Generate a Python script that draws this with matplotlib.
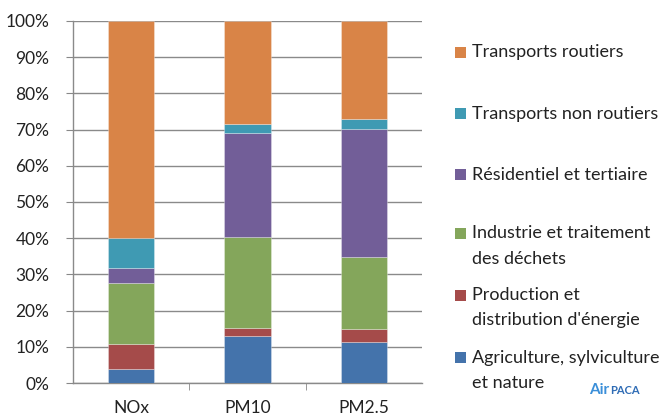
# -------------------------------------------------------------------------------------
# Library
import numpy as np
import matplotlib
matplotlib.use('Agg')
import matplotlib.pyplot as plt
from matplotlib.patches import Rectangle
from matplotlib.ticker import FuncFormatter
# -------------------------------------------------------------------------------------

# -------------------------------------------------------------------------------------
# Data (parts in %)
pollutants = ['NOx', 'PM10', 'PM2.5']
sectors = ['Agriculture, sylviculture\net nature',
           'Production et\ndistribution d\'énergie',
           'Industrie et traitement\ndes déchets',
           'Résidentiel et tertiaire',
           'Transports non routiers',
           'Transports routiers']
agriculture = [3.8, 13.0, 11.4]
production = [7.0, 2.3, 3.4]
industrie = [16.7, 25.1, 19.9]
residentiel = [4.4, 28.6, 35.5]
non_routiers = [8.2, 2.5, 2.6]
routiers = [59.9, 28.5, 27.2]
colors = ['#4473AB', '#A54B4A', '#84A65B', '#725E98', '#3F9AB3', '#D98447']
# -------------------------------------------------------------------------------------

plt.rcParams['font.family'] = ['Lato', 'DejaVu Sans']

fig = plt.figure(figsize=(6.66, 4.17), dpi=100)
ax = fig.add_axes([73 / 666, 1 - 383 / 417, (422 - 73) / 666, (383 - 21) / 417])

series = [agriculture, production, industrie, residentiel, non_routiers, routiers]
x = np.arange(len(pollutants))
bottom = np.zeros(len(pollutants))
for vals, col in zip(series, colors):
    vals = np.array(vals)
    ax.bar(x, vals, width=0.4, bottom=bottom, color=col,
           edgecolor=(1, 1, 1, 0.35), linewidth=0.6, zorder=3)
    bottom += vals

ax.set_xlim(-0.5, 2.5)
ax.set_ylim(0, 100)
ax.set_yticks(np.arange(0, 101, 10))
ax.yaxis.set_major_formatter(FuncFormatter(lambda v, p: '%d%%' % v))
ax.set_xticks(x)
ax.set_xticklabels(pollutants)
ax.set_xticks([0.5, 1.5], minor=True)
ax.tick_params(axis='x', which='major', length=0, pad=12, labelsize=12.5, colors='#222222')
ax.tick_params(axis='x', which='minor', length=5, direction='out', color='#888888')
ax.tick_params(axis='y', length=5, direction='out', color='#888888',
               labelsize=12.5, pad=12, labelcolor='#222222')
ax.grid(axis='y', color='#8a8a8a', linewidth=1.0, zorder=0)
for side in ['top', 'right']:
    ax.spines[side].set_visible(False)
for side in ['left', 'bottom']:
    ax.spines[side].set_color('#8a8a8a')
    ax.spines[side].set_linewidth(1.0)

# Legend (manual, Excel style), one text per line
legend_y = [52, 113, 174, 233, 295, 357]
for lab, col, ly in zip(sectors[::-1], colors[::-1], legend_y):
    fig.patches.append(Rectangle((455 / 666, 1 - (ly + 5.5) / 417), 11 / 666, 11 / 417,
                                 transform=fig.transFigure, facecolor=col,
                                 edgecolor='none'))
    for i, line in enumerate(lab.split('\n')):
        fig.text(472 / 666, 1 - (ly + 5.5 + 25 * i) / 417, line, fontsize=13,
                 color='#222222', va='baseline', ha='left')

# Logo text
fig.text(589 / 666, 1 - 394 / 417, 'Air', fontsize=11, color='#3b8fd9',
         fontweight='bold', va='baseline', ha='left')
fig.text(610 / 666, 1 - 394 / 417, 'PACA', fontsize=8, color='#2f6cb5',
         fontweight='bold', va='baseline', ha='left')

fig.savefig('out.png', dpi=100)
